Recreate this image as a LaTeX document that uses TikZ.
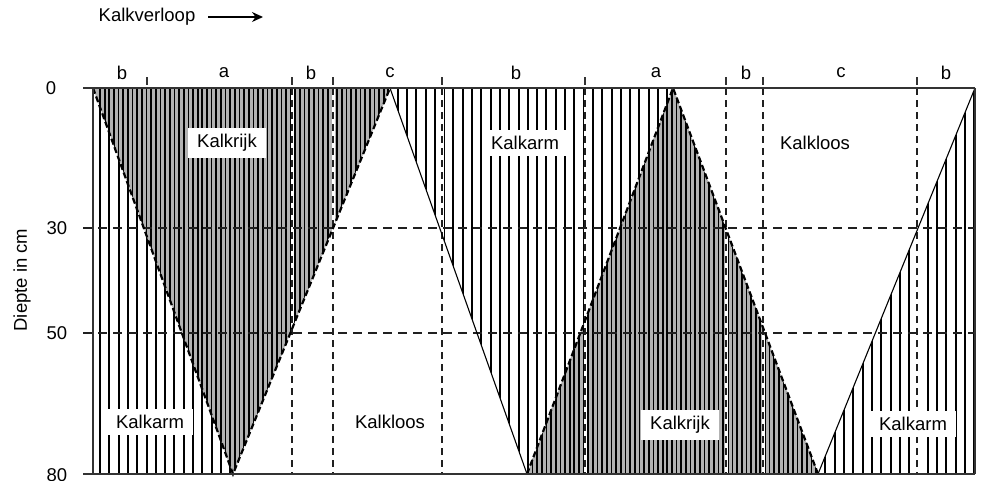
\documentclass[tikz,border=0pt]{standalone}
\usepackage{fontspec}
\setmainfont{Liberation Sans}
\usetikzlibrary{arrows.meta}
\begin{document}
\begin{tikzpicture}[x=1pt,y=-1pt,
  font=\fontsize{18.5}{20}\selectfont,
  armline/.style={line width=2pt,black},
  rijkline/.style={line width=1.7pt,black},
  gridv/.style={line width=1.3pt,gray!25!black,dash pattern=on 7pt off 5pt},
  gridh/.style={line width=1.3pt,gray!25!black,dash pattern=on 9pt off 6pt},
  rijkedge/.style={line width=2.2pt,black,dash pattern=on 6pt off 3pt},
  looedge/.style={line width=1.1pt,black},
  frame/.style={line width=1.5pt,gray!40!black},
  tickmark/.style={line width=1.2pt,gray!40!black},
  lbl/.style={fill=white,inner xsep=9pt,inner ysep=6pt},
  plain/.style={inner sep=2pt}]
\useasboundingbox (0,0) rectangle (982,480);
% key points
\coordinate (TL) at (93,88);
\coordinate (TR) at (975,88);
\coordinate (BL) at (93,474);
\coordinate (BR) at (975,474);
\coordinate (A1) at (390,88);
\coordinate (B1) at (233,474);
\coordinate (B2) at (527,474);
\coordinate (A2) at (673,88);
\coordinate (B3) at (818,474);
\coordinate (TLx) at (83,88);
\coordinate (BLx) at (83,474);
% kalkarm hatch everywhere
\foreach \i in {0,...,94} {\draw[armline] ({100+9.3*\i},88) -- ({100+9.3*\i},474);}
% kalkloos
\fill[white] (B1) -- (A1) -- (B2) -- cycle;
\fill[white] (A2) -- (TR) -- (B3) -- cycle;
% kalkrijk
\begin{scope}
  \clip (TL) -- (A1) -- (B1) -- cycle;
  \fill[gray!60] (TL) rectangle (BR);
  \foreach \i in {0,...,188} {\draw[rijkline] ({100+4.65*\i},88) -- ({100+4.65*\i},474);}
\end{scope}
\begin{scope}
  \clip (B2) -- (A2) -- (B3) -- cycle;
  \fill[gray!60] (TL) rectangle (BR);
  \foreach \i in {0,...,188} {\draw[rijkline] ({100+4.65*\i},88) -- ({100+4.65*\i},474);}
\end{scope}
% vertical dashed lines
\foreach \x in {292,333,442,585,726,763,917} {
  \draw[white,line width=3pt] (\x,88) -- (\x,474);
  \draw[gridv] (\x,88) -- (\x,474);
}
% horizontal dashed lines
\draw[gridh] (83,228) -- (975,228);
\draw[gridh] (83,333) -- (975,333);
% boundaries
\draw[rijkedge] (TL) -- (B1) -- (A1);
\draw[rijkedge] (B2) -- (A2) -- (B3);
\draw[looedge] (A1) -- (B2);
\draw[looedge] (B3) -- (TR);
% frame
\draw[frame] (TLx) -- (TR);
\draw[frame] (BLx) -- (BR);
\draw[frame] (TL) -- (BL);
\draw[frame] (TR) -- (BR);
% top ticks
\foreach \x in {147,292,333,442,585,726,763,917} {\draw[tickmark] (\x,77) -- (\x,85);}
% top letters
\node[plain] (l1) at (122,73) {b};
\node[plain] (l2) at (224,73) {a};
\node[plain] (l3) at (311,73) {b};
\node[plain] (l4) at (390,73) {c};
\node[plain] (l5) at (516,73) {b};
\node[plain] (l6) at (656,73) {a};
\node[plain] (l7) at (746,73) {b};
\node[plain] (l8) at (841,73) {c};
\node[plain] (l9) at (946,73) {b};
% depth labels
\node[plain] (d0) at (51,88) {0};
\node[plain] (d30) at (57,228) {30};
\node[plain] (d50) at (57,333) {50};
\node[plain] (d80) at (57,475) {80};
\node[plain,rotate=90] (ylab) at (22,280) {Diepte in cm};
% title
\node[plain] (title) at (147,17) {Kalkverloop};
\coordinate (arrS) at (208,17);
\coordinate (arrE) at (263,17);
\draw[line width=1.4pt,-{Stealth[length=11pt,width=10pt]}] (arrS) -- (arrE);
% region labels
\node[lbl] (r1) at (227,143) {Kalkrijk};
\node[lbl] (r2) at (525,143) {Kalkarm};
\node[plain] (r3) at (815,143) {Kalkloos};
\node[lbl] (r4) at (150,422) {Kalkarm};
\node[plain] (r5) at (390,422) {Kalkloos};
\node[lbl] (r6) at (680,425) {Kalkrijk};
\node[lbl] (r7) at (913,424) {Kalkarm};
\end{tikzpicture}
\end{document}
